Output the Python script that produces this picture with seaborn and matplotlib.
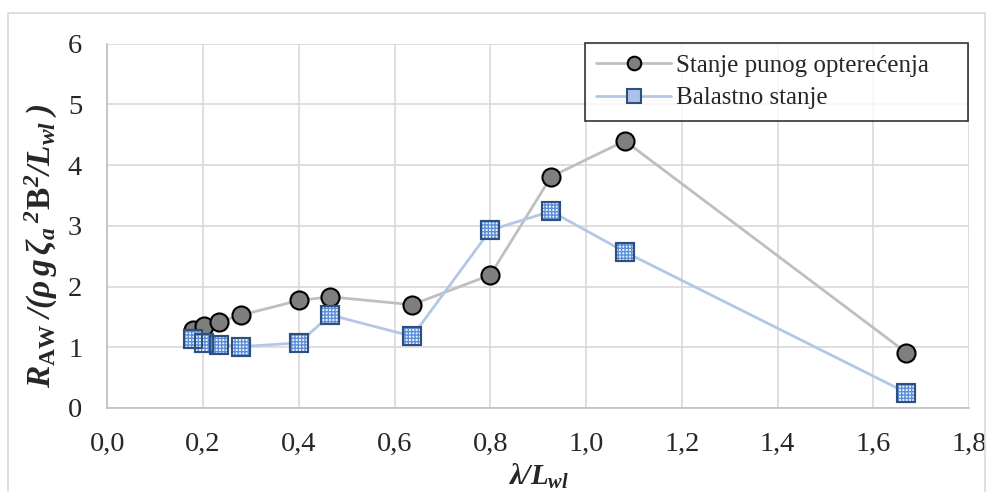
import matplotlib
matplotlib.use("Agg")
import matplotlib.pyplot as plt
import seaborn as sns
import pandas as pd
from matplotlib.patches import Rectangle

# data
x_vals = [0.180, 0.202, 0.234, 0.280, 0.400, 0.466, 0.637, 0.800, 0.927, 1.081, 1.669]
full_load = [1.29, 1.35, 1.42, 1.53, 1.77, 1.83, 1.70, 2.19, 3.81, 4.40, 0.91]
ballast = [1.14, 1.07, 1.04, 1.01, 1.07, 1.53, 1.18, 2.93, 3.24, 2.57, 0.25]
series_names = ["Stanje punog opterećenja", "Balastno stanje"]
x_ticks = [0.0, 0.2, 0.4, 0.6, 0.8, 1.0, 1.2, 1.4, 1.6, 1.8]
y_ticks = [0, 1, 2, 3, 4, 5, 6]

sns.set_theme(style="white")
plt.rcParams['font.family'] = ['Liberation Serif', 'DejaVu Serif']
plt.rcParams['mathtext.fontset'] = 'custom'
plt.rcParams['mathtext.it'] = 'Liberation Serif:bold:italic'
plt.rcParams['mathtext.rm'] = 'Liberation Serif:bold:italic'
plt.rcParams['mathtext.bf'] = 'Liberation Serif:bold'
plt.rcParams['hatch.linewidth'] = 1.0

df = pd.DataFrame({"x": x_vals, "full": full_load, "ballast": ballast})

fig = plt.figure(figsize=(9.93, 4.92), dpi=100)
ax = fig.add_axes([0.108, 0.171, 0.868, 0.740])

# outer chart border
fig.patches.append(Rectangle((0.008, -0.05), 0.984, 1.024, transform=fig.transFigure,
                             fill=False, edgecolor='#d9d9d9', linewidth=1.2))

sns.lineplot(data=df, x="x", y="full", ax=ax, color='#bfbfbf', linewidth=2,
             marker='o', markersize=13, markerfacecolor='#7f7f7f',
             markeredgecolor='black', markeredgewidth=1.5, sort=False,
             label=series_names[0])
sns.lineplot(data=df, x="x", y="ballast", ax=ax, color='#b4c7e7', linewidth=2,
             marker='s', markersize=13, markerfacecolor='#a9c2ea',
             markeredgecolor='#2f4f7f', markeredgewidth=1.5, sort=False,
             label=series_names[1])
# checkered fill on the squares, then the dark outline on top
sns.scatterplot(data=df, x="x", y="ballast", ax=ax, marker='s', s=169,
                facecolor='#eef3fb', edgecolor='#5b8fd9', linewidth=0,
                hatch='+++++', zorder=3, legend=False)
sns.scatterplot(data=df, x="x", y="ballast", ax=ax, marker='s', s=169,
                facecolor='none', edgecolor='#2f4f7f', linewidth=1.5,
                zorder=4, legend=False)

ax.set_xlim(0, 1.8)
ax.set_ylim(0, 6)
ax.set_xticks(x_ticks)
ax.set_xticklabels([f"{v:.1f}".replace('.', ',') for v in x_ticks])
ax.set_yticks(y_ticks)
ax.set_yticklabels([str(v) for v in y_ticks])
ax.tick_params(axis='x', labelsize=20.5, length=0, pad=17)
ax.tick_params(axis='y', labelsize=20.5, length=0, pad=18)

ax.grid(True, color='#d9d9d9', linewidth=1.2)
ax.set_axisbelow(True)
for side in ['top', 'right']:
    ax.spines[side].set_visible(False)
for side in ['left', 'bottom']:
    ax.spines[side].set_color('#bfbfbf')
    ax.spines[side].set_linewidth(1.2)

ax.set_xlabel(r'$\lambda/L_{wl}$', fontsize=21, labelpad=4)
ax.set_ylabel(r'$R_{\mathbf{AW}}\;/(\rho\, g\,\zeta_a{}^{\;2}\mathbf{B}^2/L_{wl}\;)$',
              fontsize=24)
ax.yaxis.set_label_coords(-0.055, 0.445)

leg = ax.legend(loc='upper left', bbox_to_anchor=(0.5545, 1.002, 0.444, 0),
                mode='expand', fontsize=18, frameon=True, fancybox=False,
                borderaxespad=0, handlelength=3.0, handletextpad=0.2,
                borderpad=0.45, labelspacing=0.4, markerscale=0.75)
leg.get_frame().set_edgecolor('black')
leg.get_frame().set_linewidth(1.2)

fig.savefig('out.png', dpi=100)
